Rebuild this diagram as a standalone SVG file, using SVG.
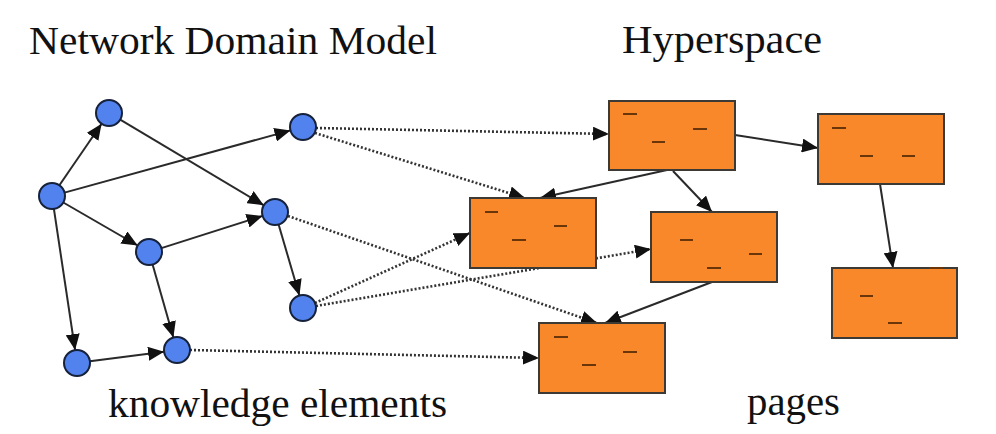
<svg xmlns="http://www.w3.org/2000/svg" width="996" height="434" viewBox="0 0 996 434">
<defs>
<marker id="ah" markerUnits="userSpaceOnUse" markerWidth="18" markerHeight="14" refX="16" refY="7" orient="auto">
<path d="M0,0 L16,7 L0,14 z" fill="#111"/>
</marker>
<style>
.t{font-family:'Liberation Serif','Times New Roman',Tinos,'Noto Serif','DejaVu Serif',serif;font-size:41px;fill:#111}
.n{fill:#5182EE;stroke:#16213a;stroke-width:2}
.b{fill:#F8882A;stroke:#3d3a36;stroke-width:2}
.d{stroke:#6a3508;stroke-width:2}
.s{stroke:#2a2a2a;stroke-width:2;fill:none;marker-end:url(#ah)}
.o{stroke:#333;stroke-width:2.6;stroke-dasharray:2 2;fill:none;marker-end:url(#ah)}
</style>
</defs>
<rect width="996" height="434" fill="#fff"/>
<text class="t" x="29" y="54" textLength="408" lengthAdjust="spacingAndGlyphs">Network Domain Model</text>
<text class="t" x="622" y="53" textLength="200" lengthAdjust="spacingAndGlyphs">Hyperspace</text>
<text class="t" x="108" y="417" textLength="339" lengthAdjust="spacingAndGlyphs">knowledge elements</text>
<text class="t" x="747" y="415" textLength="93" lengthAdjust="spacingAndGlyphs">pages</text>
<g id="connectors">
<line class="s" x1="59.4" y1="185.3" x2="101.6" y2="123.7"/>
<line class="s" x1="64.5" y1="192.6" x2="290.5" y2="130.4"/>
<line class="s" x1="63.3" y1="202.5" x2="137.7" y2="245.5"/>
<line class="s" x1="53.9" y1="208.9" x2="75.1" y2="350.1"/>
<line class="s" x1="120.2" y1="119.7" x2="263.8" y2="205.3"/>
<line class="s" x1="161.4" y1="248.1" x2="262.6" y2="215.9"/>
<line class="s" x1="152.6" y1="264.5" x2="173.4" y2="337.5"/>
<line class="s" x1="278.6" y1="224.5" x2="299.4" y2="295.5"/>
<line class="s" x1="89.9" y1="361.3" x2="164.1" y2="351.7"/>
<line class="o" x1="316" y1="128" x2="609" y2="134"/>
<line class="o" x1="315" y1="133" x2="525" y2="198"/>
<line class="o" x1="288" y1="216" x2="597" y2="323"/>
<line class="o" x1="315" y1="303" x2="470" y2="233"/>
<line class="o" x1="316" y1="306" x2="651" y2="249"/>
<line class="o" x1="190" y1="350" x2="539" y2="358"/>
<line class="s" x1="735" y1="135" x2="818" y2="148"/>
<line class="s" x1="667" y1="170" x2="540" y2="198"/>
<line class="s" x1="673" y1="171" x2="712" y2="212"/>
<line class="s" x1="712" y1="282" x2="605" y2="323"/>
<line class="s" x1="880" y1="184" x2="893" y2="268"/>
</g>
<g id="n0"><circle class="n" cx="52" cy="196" r="13"/></g>
<g id="n1"><circle class="n" cx="109" cy="113" r="13"/></g>
<g id="n2"><circle class="n" cx="303" cy="127" r="13"/></g>
<g id="n3"><circle class="n" cx="275" cy="212" r="13"/></g>
<g id="n4"><circle class="n" cx="149" cy="252" r="13"/></g>
<g id="n5"><circle class="n" cx="303" cy="308" r="13"/></g>
<g id="n6"><circle class="n" cx="177" cy="350" r="13"/></g>
<g id="n7"><circle class="n" cx="77" cy="363" r="13"/></g>
<g id="pageA"><rect class="b" x="609" y="101" width="126" height="69"/>
<line class="d" x1="623" y1="114" x2="637" y2="114"/><line class="d" x1="652" y1="142" x2="665" y2="142"/><line class="d" x1="693" y1="129" x2="707" y2="129"/></g>
<g id="pageB"><rect class="b" x="470" y="198" width="126" height="70"/>
<line class="d" x1="485" y1="212" x2="498" y2="212"/><line class="d" x1="512" y1="240" x2="526" y2="240"/><line class="d" x1="554" y1="226" x2="567" y2="226"/></g>
<g id="pageC"><rect class="b" x="651" y="212" width="126" height="70"/>
<line class="d" x1="680" y1="240" x2="693" y2="240"/><line class="d" x1="707" y1="268" x2="721" y2="268"/><line class="d" x1="749" y1="254" x2="762" y2="254"/></g>
<g id="pageD"><rect class="b" x="539" y="323" width="126" height="70"/>
<line class="d" x1="554" y1="337" x2="568" y2="337"/><line class="d" x1="582" y1="365" x2="596" y2="365"/><line class="d" x1="623" y1="352" x2="637" y2="352"/></g>
<g id="pageE"><rect class="b" x="818" y="114" width="126" height="70"/>
<line class="d" x1="832" y1="128" x2="846" y2="128"/><line class="d" x1="860" y1="156" x2="873" y2="156"/><line class="d" x1="902" y1="156" x2="915" y2="156"/></g>
<g id="pageF"><rect class="b" x="832" y="268" width="125" height="70"/>
<line class="d" x1="860" y1="296" x2="873" y2="296"/><line class="d" x1="888" y1="323" x2="902" y2="323"/><line class="d" x1="929" y1="268" x2="943" y2="268"/></g>
</svg>
